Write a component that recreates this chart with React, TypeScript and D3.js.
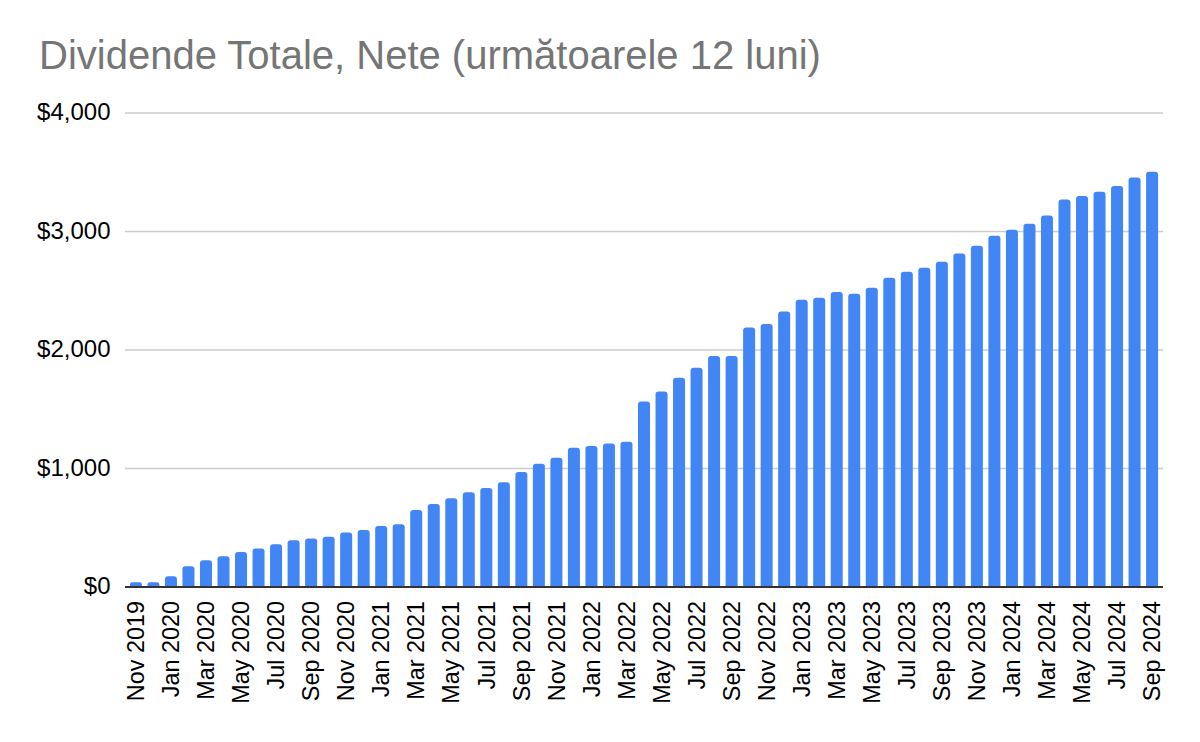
import * as d3 from 'd3'
import { useEffect, useRef } from 'react'

const months: string[] = [
    'Nov 2019', 'Dec 2019',
    'Jan 2020', 'Feb 2020', 'Mar 2020', 'Apr 2020', 'May 2020', 'Jun 2020', 'Jul 2020', 'Aug 2020', 'Sep 2020', 'Oct 2020', 'Nov 2020', 'Dec 2020',
    'Jan 2021', 'Feb 2021', 'Mar 2021', 'Apr 2021', 'May 2021', 'Jun 2021', 'Jul 2021', 'Aug 2021', 'Sep 2021', 'Oct 2021', 'Nov 2021', 'Dec 2021',
    'Jan 2022', 'Feb 2022', 'Mar 2022', 'Apr 2022', 'May 2022', 'Jun 2022', 'Jul 2022', 'Aug 2022', 'Sep 2022', 'Oct 2022', 'Nov 2022', 'Dec 2022',
    'Jan 2023', 'Feb 2023', 'Mar 2023', 'Apr 2023', 'May 2023', 'Jun 2023', 'Jul 2023', 'Aug 2023', 'Sep 2023', 'Oct 2023', 'Nov 2023', 'Dec 2023',
    'Jan 2024', 'Feb 2024', 'Mar 2024', 'Apr 2024', 'May 2024', 'Jun 2024', 'Jul 2024', 'Aug 2024', 'Sep 2024',
];

// dividende nete pe urmatoarele 12 luni (USD)
const dividends: number[] = [
    40, 40,
    90, 175, 225, 260, 295, 325, 360, 395, 410, 425, 460, 480,
    515, 530, 650, 700, 750, 800, 835, 885, 970, 1040, 1090, 1175,
    1190, 1210, 1225, 1565, 1650, 1765, 1850, 1950, 1950, 2190, 2220, 2325,
    2425, 2440, 2490, 2475, 2525, 2610, 2660, 2695, 2745, 2815, 2880, 2965,
    3015, 3065, 3135, 3270, 3300, 3335, 3385, 3455, 3505,
];

const yTicks: number[] = [0, 1000, 2000, 3000, 4000];

const title = 'Dividende Totale, Nete (următoarele 12 luni)';

const W = 1200;
const H = 742;
const FONT = '"Liberation Sans", Arial, sans-serif';

const App = () => {
    const ref = useRef<SVGSVGElement>(null);

    useEffect(() => {
        const svg = d3.select(ref.current);
        svg.selectAll('*').remove();

        const plot = { left: 125, right: 1163, top: 113, bottom: 587 };

        const x = d3.scaleBand<string>()
            .domain(months)
            .range([plot.left, plot.right])
            .paddingInner(0.315)
            .paddingOuter(0.28);

        const y = d3.scaleLinear()
            .domain([0, 4000])
            .range([plot.bottom, plot.top]);

        svg.append('rect').attr('width', W).attr('height', H).attr('fill', '#fff');

        svg.append('text')
            .attr('x', 39)
            .attr('y', 69)
            .attr('font-family', FONT)
            .attr('font-size', 40)
            .attr('fill', '#757575')
            .text(title);

        // gridlines + y labels
        const fmt = d3.format('$,');
        yTicks.forEach(t => {
            if (t > 0) {
                svg.append('line')
                    .attr('x1', plot.left).attr('x2', plot.right)
                    .attr('y1', y(t)).attr('y2', y(t))
                    .attr('stroke', '#cccccc')
                    .attr('stroke-width', 1.5);
            }
            svg.append('text')
                .attr('x', 110.5)
                .attr('y', y(t))
                .attr('dy', '0.3em')
                .attr('text-anchor', 'end')
                .attr('font-family', FONT)
                .attr('font-size', 24)
                .attr('fill', '#000')
                .text(fmt(t));
        });

        // bars with rounded tops
        const r = 3;
        const bw = x.bandwidth();
        svg.append('g')
            .selectAll('path')
            .data(dividends)
            .join('path')
            .attr('fill', '#4285f4')
            .attr('d', (d, i) => {
                const x0 = x(months[i])!;
                const y0 = y(d);
                const y1 = y(0);
                const rr = Math.min(r, (y1 - y0) / 2);
                return `M${x0},${y1}V${y0 + rr}Q${x0},${y0} ${x0 + rr},${y0}H${x0 + bw - rr}Q${x0 + bw},${y0} ${x0 + bw},${y0 + rr}V${y1}Z`;
            });

        // baseline
        svg.append('line')
            .attr('x1', plot.left).attr('x2', plot.right)
            .attr('y1', y(0)).attr('y2', y(0))
            .attr('stroke', '#333333')
            .attr('stroke-width', 2);

        // x labels, every other month
        months.forEach((m, i) => {
            if (i % 2 !== 0) return;
            const cx = x(m)! + bw / 2;
            svg.append('text')
                .attr('transform', `translate(${cx},601) rotate(-90)`)
                .attr('dy', '0.35em')
                .attr('text-anchor', 'end')
                .attr('font-family', FONT)
                .attr('font-size', 23.4)
                .attr('fill', '#000')
                .text(m);
        });
    }, []);

    return (
        <svg ref={ref} width={W} height={H}
            style={{ position: 'absolute', left: 0, top: 0, display: 'block' }} />
    );
};

export default App;
